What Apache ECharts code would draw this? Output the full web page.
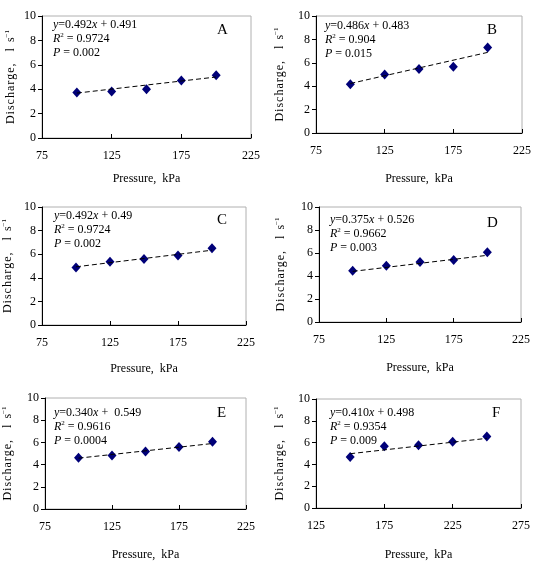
<!DOCTYPE html>
<html>
<head>
<meta charset="utf-8">
<script src="https://cdn.jsdelivr.net/npm/echarts@6/dist/echarts.min.js"></script>
<style>
  html, body { margin: 0; padding: 0; background: #fff; }
  #chart { width: 541px; height: 562px; }
</style>
</head>
<body>
<div id="chart"></div>
<script>
// pressure (kPa) for panels A-E and for panel F
var pressureAE = [100, 125, 150, 175, 200];
var pressureF = [150, 175, 200, 225, 250];

// discharge (l/s)
var dischargeA = [3.73, 3.81, 4.0, 4.71, 5.15];
var dischargeB = [4.17, 5.0, 5.46, 5.66, 7.31];
var dischargeC = [4.87, 5.35, 5.6, 5.89, 6.5];
var dischargeD = [4.46, 4.9, 5.22, 5.39, 6.06];
var dischargeE = [4.61, 4.81, 5.19, 5.59, 6.05];
var dischargeF = [4.69, 5.66, 5.75, 6.07, 6.57];

// dashed trend line, value at first and last pressure
var trendA = [3.68, 5.0];
var trendB = [4.23, 6.89];
var trendC = [4.93, 6.34];
var trendD = [4.4, 5.8];
var trendE = [4.58, 5.9];
var trendF = [4.98, 6.39];

var eqA = ['0.492', '0.491', '0.9724', '0.002'];
var eqB = ['0.486', '0.483', '0.904', '0.015'];
var eqC = ['0.492', '0.49', '0.9724', '0.002'];
var eqD = ['0.375', '0.526', '0.9662', '0.003'];
var eqE = ['0.340', ' 0.549', '0.9616', '0.0004'];
var eqF = ['0.410', '0.498', '0.9354', '0.009'];

var xTicksAE = [75, 225];   // axis min / max
var xTicksF = [125, 275];

var font = 'Liberation Serif, Times New Roman, serif';

var panels = [
    {tag: 'A', x: pressureAE, y: dischargeA, t: trendA, eq: eqA, ext: xTicksAE,
     grid: {left: 42, top: 16, width: 209, height: 122}, nameGap: [35, 24], eqPos: [53, 18], tagPos: [217, 23]},
    {tag: 'B', x: pressureAE, y: dischargeB, t: trendB, eq: eqB, ext: xTicksAE,
     grid: {left: 316, top: 16, width: 206, height: 117}, nameGap: [40, 29], eqPos: [325, 19], tagPos: [487, 23]},
    {tag: 'C', x: pressureAE, y: dischargeC, t: trendC, eq: eqC, ext: xTicksAE,
     grid: {left: 42, top: 207, width: 204, height: 118}, nameGap: [38, 27], eqPos: [54, 209], tagPos: [217, 213]},
    {tag: 'D', x: pressureAE, y: dischargeD, t: trendD, eq: eqD, ext: xTicksAE,
     grid: {left: 319, top: 207, width: 202, height: 115}, nameGap: [40, 31], eqPos: [330, 213], tagPos: [487, 216]},
    {tag: 'E', x: pressureAE, y: dischargeE, t: trendE, eq: eqE, ext: xTicksAE,
     grid: {left: 43, top: 398, width: 203, height: 115}, nameGap: [40, 30], eqPos: [54, 406], tagPos: [217, 406]},
    {tag: 'F', x: pressureF, y: dischargeF, t: trendF, eq: eqF, ext: xTicksF,
     grid: {left: 316, top: 399, width: 205, height: 114}, nameGap: [41, 29], eqPos: [330, 406], tagPos: [492, 406]}
];

var option = {
    backgroundColor: '#fff',
    animation: false,
    grid: [],
    xAxis: [],
    yAxis: [],
    title: [],
    series: []
};

var rich = {
    i: {fontFamily: font, fontSize: 12, fontStyle: 'italic', color: '#000'},
    n: {fontFamily: font, fontSize: 12, color: '#000'},
    sup: {fontFamily: font, fontSize: 7, color: '#000', verticalAlign: 'top', lineHeight: 14}
};

panels.forEach(function(p, k) {
    option.grid.push({
        left: p.grid.left, top: p.grid.top, width: p.grid.width, height: p.grid.height,
        show: true, borderColor: '#b0b0b0', borderWidth: 1, backgroundColor: 'transparent'
    });
    option.xAxis.push({
        type: 'value', gridIndex: k, min: p.ext[0], max: p.ext[1], interval: 50,
        name: 'Pressure,  kPa', nameLocation: 'middle', nameGap: p.nameGap[0],
        nameTextStyle: {fontFamily: font, fontSize: 12, color: '#000'},
        axisLine: {show: true, lineStyle: {color: '#000', width: 1}},
        axisTick: {show: true, inside: true, length: 4, lineStyle: {color: '#000'}},
        axisLabel: {fontFamily: font, fontSize: 12, color: '#000', margin: 12},
        splitLine: {show: false}
    });
    option.yAxis.push({
        type: 'value', gridIndex: k, min: 0, max: 10, interval: 2,
        name: 'D\u200ai\u200as\u200ac\u200ah\u200aa\u200ar\u200ag\u200ae\u200a,    l  s{sup|\u22121}',
        nameLocation: 'middle', nameGap: p.nameGap[1], nameRotate: 90,
        nameTextStyle: {fontFamily: font, fontSize: 12, color: '#000', lineHeight: 14, rich: rich},
        axisLine: {show: true, lineStyle: {color: '#000', width: 1}},
        axisTick: {show: true, length: 4, lineStyle: {color: '#000'}},
        axisLabel: {fontFamily: font, fontSize: 12, color: '#000', margin: 6},
        splitLine: {show: false}
    });
    option.title.push({
        left: p.eqPos[0], top: p.eqPos[1], padding: 0,
        text: '{i|y}{n|=' + p.eq[0] + '}{i|x}{n| + ' + p.eq[1] + '}\n' +
              '{i|R}{sup|2}{n| = ' + p.eq[2] + '}\n' +
              '{i|P}{n| = ' + p.eq[3] + '}',
        textStyle: {fontFamily: font, fontSize: 12, fontWeight: 'normal', color: '#000', lineHeight: 14, rich: rich}
    });
    option.title.push({
        left: p.tagPos[0], top: p.tagPos[1], padding: 0, text: p.tag,
        textStyle: {fontFamily: font, fontSize: 15, fontWeight: 'normal', color: '#000'}
    });
    option.series.push({
        type: 'line', xAxisIndex: k, yAxisIndex: k, showSymbol: false, silent: true,
        data: [[p.x[0], p.t[0]], [p.x[p.x.length - 1], p.t[1]]],
        lineStyle: {color: '#000', width: 1, type: [5, 3]}
    });
    option.series.push({
        type: 'scatter', xAxisIndex: k, yAxisIndex: k, symbol: 'diamond', symbolSize: [9, 10],
        data: p.x.map(function(v, j) { return [v, p.y[j]]; }),
        itemStyle: {color: '#000078', opacity: 1}
    });
});

var myChart = echarts.init(document.getElementById('chart'));
myChart.setOption(option);
</script>
</body>
</html>
